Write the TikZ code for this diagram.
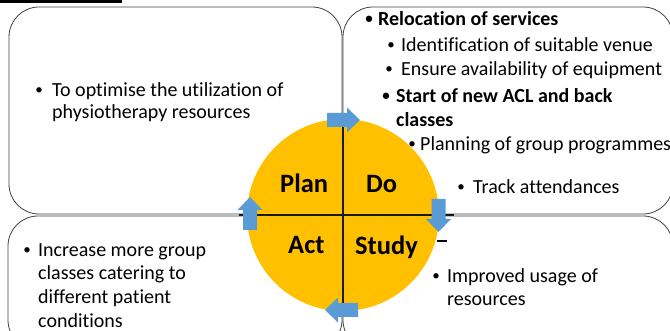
\documentclass[tikz,border=0pt]{standalone}
\usepackage{fontspec}
\setmainfont[Ligatures=NoCommon]{Carlito}
\definecolor{pdsafill}{HTML}{FFC000}
\definecolor{turnblue}{HTML}{5B9BD5}
\definecolor{panelline}{HTML}{404040}
\tikzset{panel/.style={draw=panelline,line width=0.8pt,rounded corners=30pt,inner sep=0pt}}
\tikzset{l/.style={font=\fontsize{20}{24}\selectfont,anchor=base west,inner sep=0pt}}
\tikzset{lb/.style={l,font=\fontsize{20}{24}\selectfont\bfseries}}
\tikzset{dot/.style={font=\fontsize{15}{15}\selectfont,anchor=base,inner sep=0pt,yshift=2pt}}
\tikzset{q/.style={font=\fontsize{26.5}{26.5}\selectfont\bfseries,anchor=base west,inner sep=0pt}}
\tikzset{turn/.style={fill=turnblue}}
\tikzset{cross/.style={line width=1.8pt,black!90}}

\begin{document}
\begin{tikzpicture}[x=1pt,y=-1pt,line join=round]
            \useasboundingbox (0,0) rectangle (670,331);
            \fill (0,0) rectangle (122,3.5);
            \node[panel,minimum width=333pt,minimum height=207pt] (planbox) at (175.5,110.5) {};
            \node[panel,minimum width=330pt,minimum height=207pt] (dobox) at (508,110.5) {};
            \node[panel,minimum width=334pt,minimum height=134pt] (actbox) at (175,283) {};
            \node[panel,minimum width=330pt,minimum height=134pt] (studybox) at (508,283) {};
            \node[circle,fill=pdsafill,minimum size=192pt,inner sep=0pt] (pdsa) at (343,215) {};
            \draw[cross] (pdsa.north) -- (pdsa.south);
            \draw[cross] ([xshift=-8pt]pdsa.west) -- ([xshift=15pt]pdsa.east);
            \draw[line width=1.5pt] (437,241) -- (447,241);
            \fill[turn,shift={(343,120)}] (-16,-7) -- (4,-7) -- (4,-12.5) -- (17,0) -- (4,12.5) -- (4,7) -- (-16,7) -- cycle;
            \fill[turn,shift={(438.5,215)},rotate=-90] (-16,-7) -- (4,-7) -- (4,-12.5) -- (17,0) -- (4,12.5) -- (4,7) -- (-16,7) -- cycle;
            \fill[turn,shift={(342,310)},rotate=180] (-16,-7) -- (4,-7) -- (4,-12.5) -- (17,0) -- (4,12.5) -- (4,7) -- (-16,7) -- cycle;
            \fill[turn,shift={(250,214)},rotate=90] (-16,-7) -- (4,-7) -- (4,-12.5) -- (17,0) -- (4,12.5) -- (4,7) -- (-16,7) -- cycle;
            \node[q] (plan) at (280,193) {Plan};
            \node[q] (do) at (366,193) {Do};
            \node[q] (act) at (288,254) {Act};
            \node[q] (study) at (355,255) {Study};
            \node[dot] (aimdot) at (39,97) {\textbullet};
            \node[l] (aim1) at (52,97) {To optimise the utilization of};
            \node[l] (aim2) at (52,119) {physiotherapy resources};
            \node[dot,font=\fontsize{15}{15}\selectfont\bfseries] (relocdot) at (369,26) {\textbullet};
            \node[lb] (reloc) at (378,26) {Relocation of services};
            \node[dot] (venuedot) at (391,52) {\textbullet};
            \node[l] (venue) at (401,52) {Identification of suitable venue};
            \node[dot] (equipdot) at (389,76) {\textbullet};
            \node[l] (equip) at (401,76) {Ensure availability of equipment};
            \node[dot,font=\fontsize{15}{15}\selectfont\bfseries] (startdot) at (386,103) {\textbullet};
            \node[lb] (start1) at (396,103) {Start of new ACL and back};
            \node[lb] (start2) at (396,127) {classes};
            \node[dot] (progdot) at (412,151) {\textbullet};
            \node[l] (prog) at (420,151) {Planning of group programmes};
            \node[dot] (trackdot) at (461,194) {\textbullet};
            \node[l] (track) at (473,194) {Track attendances};
            \node[dot] (moredot) at (27,257) {\textbullet};
            \node[l] (more1) at (38,257) {Increase more group};
            \node[l] (more2) at (38,280) {classes catering to};
            \node[l] (more3) at (38,304) {different patient};
            \node[l] (more4) at (38,327) {conditions};
            \node[dot] (usagedot) at (436,283) {\textbullet};
            \node[l] (usage1) at (447,283) {Improved usage of};
            \node[l] (usage2) at (447,306) {resources};
          \end{tikzpicture}
\end{document}
